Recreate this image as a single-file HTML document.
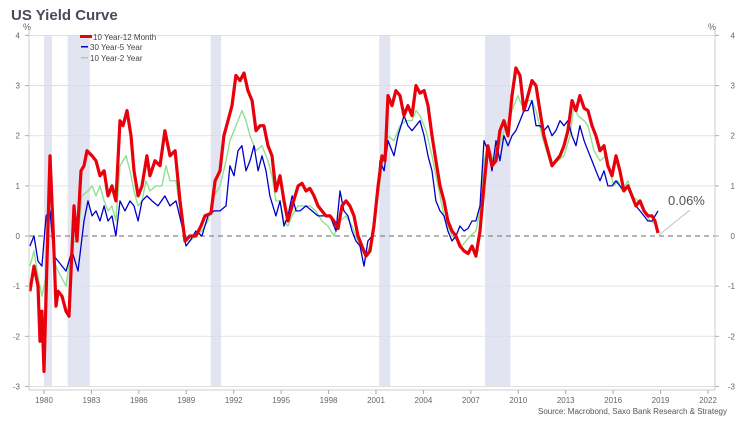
<!DOCTYPE html>
<html><head><meta charset="utf-8"><style>
body{margin:0;background:#fff;}
svg{display:block;font-family:"Liberation Sans",sans-serif;}
</style></head><body>
<svg id="chart" width="737" height="428">
<text x="11" y="20" font-size="15" font-weight="bold" fill="#4a4a5a">US Yield Curve</text>
<text x="23" y="30" font-size="9" fill="#666">%</text>
<text x="708" y="30" font-size="9" fill="#666">%</text>
<g id="bands"></g><g id="grid"></g><g id="series"></g><g id="axes"></g>
<g>
<rect x="80" y="35" width="12" height="3" fill="#e8000b"/>
<text x="93" y="40" font-size="8" fill="#444">10 Year-12 Month</text>
<rect x="81" y="46" width="7" height="1.5" fill="#0000c8"/>
<text x="90" y="50" font-size="8" fill="#444">30 Year-5 Year</text>
<rect x="81" y="57" width="7" height="1.5" fill="#90e090"/>
<text x="90" y="61" font-size="8" fill="#444">10 Year-2 Year</text>
</g>
<line x1="659" y1="235" x2="690" y2="210" stroke="#aaa" stroke-width="0.8"/>
<text x="668" y="205" font-size="13" fill="#555">0.06%</text>
<text x="727" y="414" font-size="8" fill="#555" text-anchor="end">Source: Macrobond, Saxo Bank Research &amp; Strategy</text>
</svg>
<script>
const yTicks=[-3,-2,-1,0,1,2,3,4];
const xTicks=[1980,1983,1986,1989,1992,1995,1998,2001,2004,2007,2010,2013,2016,2019,2022];
const recessions=[[1980.0,1980.5],[1981.5,1982.9],[1990.55,1991.2],[2001.2,2001.9],[2007.9,2009.5]];
const redDates=[1979.11,1979.37,1979.62,1979.75,1979.87,1980.00,1980.19,1980.38,1980.57,1980.76,1980.89,1981.14,1981.39,1981.58,1981.90,1982.09,1982.34,1982.53,1982.72,1983.04,1983.29,1983.54,1983.80,1984.05,1984.30,1984.55,1984.81,1985.00,1985.25,1985.50,1985.69,1985.95,1986.20,1986.51,1986.70,1987.02,1987.34,1987.65,1987.97,1988.29,1988.60,1988.92,1989.23,1989.61,1989.93,1990.18,1990.56,1990.82,1991.13,1991.38,1991.64,1991.89,1992.14,1992.40,1992.65,1992.90,1993.16,1993.41,1993.66,1993.91,1994.17,1994.42,1994.67,1994.93,1995.18,1995.43,1995.69,1996.07,1996.32,1996.57,1996.82,1997.08,1997.33,1997.58,1997.84,1998.09,1998.34,1998.60,1998.85,1999.10,1999.35,1999.61,1999.86,2000.11,2000.37,2000.62,2000.87,2001.13,2001.38,2001.57,2001.76,2002.01,2002.26,2002.52,2002.77,2003.02,2003.28,2003.53,2003.78,2004.04,2004.29,2004.54,2004.79,2005.05,2005.30,2005.55,2005.81,2006.06,2006.31,2006.57,2006.82,2007.07,2007.32,2007.58,2007.83,2008.08,2008.34,2008.59,2008.84,2009.09,2009.35,2009.60,2009.85,2010.11,2010.36,2010.61,2010.87,2011.12,2011.37,2011.62,2011.88,2012.13,2012.38,2012.64,2012.89,2013.14,2013.40,2013.65,2013.90,2014.16,2014.41,2014.66,2014.91,2015.17,2015.42,2015.67,2015.93,2016.18,2016.43,2016.68,2016.94,2017.19,2017.44,2017.70,2017.95,2018.20,2018.46,2018.65,2018.84];
const redValues=[-1.1,-0.6,-1.0,-2.1,-1.5,-2.7,-0.5,1.6,0.2,-1.4,-1.1,-1.2,-1.5,-1.6,0.6,-0.1,1.3,1.4,1.7,1.6,1.5,1.2,1.3,0.8,1.0,0.7,2.3,2.2,2.5,2.0,1.3,0.8,1.0,1.6,1.2,1.5,1.4,2.1,1.6,1.7,0.7,-0.1,0.0,0.0,0.2,0.4,0.45,1.1,1.3,2.0,2.3,2.6,3.2,3.1,3.25,2.9,2.7,2.1,2.2,2.2,1.8,1.6,0.9,1.2,0.7,0.3,0.6,1.0,1.05,0.9,0.95,0.8,0.6,0.5,0.4,0.4,0.3,0.15,0.6,0.7,0.6,0.4,0.0,-0.2,-0.4,-0.3,0.2,1.0,1.6,1.5,2.8,2.6,2.9,2.8,2.4,2.6,2.4,3.0,2.85,2.9,2.6,2.0,1.5,1.0,0.7,0.3,0.1,0.0,-0.2,-0.3,-0.35,-0.2,-0.4,0.1,1.0,1.8,1.4,1.5,2.1,2.3,2.0,2.8,3.35,3.2,2.5,2.8,3.1,3.0,2.5,2.0,1.7,1.4,1.5,1.6,1.8,2.1,2.7,2.5,2.8,2.55,2.5,2.2,2.0,1.7,1.8,1.4,1.2,1.6,1.3,0.9,1.0,0.8,0.6,0.7,0.5,0.4,0.4,0.3,0.06];
const blueDates=[1979.11,1979.37,1979.62,1979.87,1980.13,1980.38,1980.63,1980.89,1981.39,1981.77,1982.15,1982.53,1982.78,1983.04,1983.29,1983.54,1983.80,1984.05,1984.30,1984.55,1984.81,1985.12,1985.44,1985.69,1985.95,1986.20,1986.51,1986.83,1987.21,1987.65,1987.97,1988.35,1988.73,1988.98,1989.23,1989.61,1989.99,1990.37,1990.75,1991.13,1991.51,1991.76,1992.02,1992.27,1992.52,1992.78,1993.03,1993.28,1993.54,1993.79,1994.04,1994.29,1994.67,1994.93,1995.18,1995.43,1995.69,1995.94,1996.19,1996.57,1996.95,1997.33,1997.71,1998.09,1998.47,1998.72,1998.97,1999.23,1999.48,1999.73,1999.99,2000.24,2000.49,2000.75,2001.00,2001.25,2001.51,2001.76,2002.14,2002.39,2002.77,2003.02,2003.28,2003.53,2003.78,2004.04,2004.29,2004.54,2004.79,2005.05,2005.30,2005.55,2005.81,2006.06,2006.31,2006.57,2006.82,2007.07,2007.32,2007.58,2007.83,2008.08,2008.34,2008.59,2008.84,2009.09,2009.35,2009.60,2009.85,2010.11,2010.36,2010.61,2010.87,2011.12,2011.37,2011.62,2011.88,2012.13,2012.38,2012.64,2012.89,2013.14,2013.40,2013.65,2013.90,2014.16,2014.41,2014.66,2014.91,2015.17,2015.42,2015.67,2015.93,2016.18,2016.43,2016.68,2016.94,2017.19,2017.44,2017.70,2017.95,2018.20,2018.46,2018.84];
const blueValues=[-0.2,0.0,-0.5,-0.6,0.4,0.5,-0.4,-0.5,-0.7,-0.3,-0.7,0.3,0.7,0.4,0.5,0.3,0.6,0.3,0.4,0.0,0.7,0.5,0.7,0.6,0.3,0.7,0.8,0.7,0.6,0.8,0.6,0.7,0.2,-0.2,-0.1,0.1,0.0,0.4,0.5,0.5,0.6,1.4,1.2,1.7,1.8,1.3,1.5,1.8,1.3,1.6,1.3,0.8,0.4,0.7,0.2,0.4,0.8,0.5,0.5,0.6,0.5,0.4,0.4,0.4,0.1,0.9,0.5,0.4,0.1,-0.1,-0.2,-0.6,-0.1,0.0,0.5,1.5,1.3,1.9,1.6,2.0,2.4,2.2,2.1,2.2,2.3,2.0,1.6,1.3,0.7,0.5,0.4,0.1,-0.1,0.0,0.2,0.1,0.15,0.3,0.3,0.6,1.9,1.7,1.3,1.9,1.5,2.0,1.8,2.0,2.1,2.3,2.5,2.5,2.7,2.2,2.2,2.1,2.2,2.0,2.1,2.3,2.2,2.3,2.0,1.8,2.2,1.9,1.7,1.5,1.3,1.1,1.3,1.0,1.0,1.1,1.0,0.9,1.0,0.8,0.6,0.5,0.4,0.3,0.3,0.5];
const greenDates=[1979.11,1979.37,1979.62,1979.87,1980.13,1980.38,1980.63,1980.89,1981.39,1981.77,1982.15,1982.40,1982.78,1983.04,1983.29,1983.54,1983.80,1984.05,1984.30,1984.55,1984.81,1985.19,1985.44,1985.69,1985.95,1986.20,1986.45,1986.70,1987.08,1987.46,1987.72,1987.97,1988.35,1988.60,1988.92,1989.23,1989.61,1989.99,1990.37,1990.75,1991.13,1991.51,1991.76,1992.02,1992.27,1992.52,1992.78,1993.03,1993.41,1993.79,1994.17,1994.42,1994.67,1994.93,1995.18,1995.43,1995.69,1996.07,1996.45,1996.82,1997.20,1997.58,1997.96,1998.34,1998.72,1999.10,1999.48,1999.73,2000.11,2000.37,2000.62,2000.87,2001.13,2001.38,2001.76,2002.14,2002.52,2002.90,2003.28,2003.53,2003.78,2004.16,2004.54,2004.79,2005.05,2005.30,2005.55,2005.81,2006.19,2006.44,2006.69,2006.95,2007.32,2007.58,2007.83,2008.08,2008.46,2008.84,2009.09,2009.35,2009.73,2009.98,2010.23,2010.61,2010.87,2011.12,2011.50,2011.88,2012.13,2012.51,2012.89,2013.27,2013.52,2013.78,2014.16,2014.41,2014.79,2015.17,2015.55,2015.80,2016.05,2016.31,2016.56,2016.94,2017.19,2017.57,2017.95,2018.33,2018.65,2018.84];
const greenValues=[-0.6,-0.3,-0.8,-1.2,-0.8,1.0,-0.5,-0.7,-1.0,-0.2,0.0,0.8,0.9,1.0,0.8,1.0,0.7,0.5,0.6,0.3,1.4,1.6,1.3,0.9,0.6,0.7,1.1,0.9,1.0,1.0,1.4,1.1,1.1,0.5,-0.1,-0.1,0.0,0.1,0.3,0.8,1.0,1.5,1.9,2.1,2.3,2.5,2.3,2.0,1.7,1.8,1.5,1.2,0.7,0.7,0.3,0.2,0.4,0.6,0.6,0.6,0.5,0.3,0.2,0.0,0.3,0.4,0.2,0.0,-0.3,-0.4,-0.2,0.3,0.8,1.4,2.0,1.9,2.2,2.3,2.3,2.5,2.4,2.1,1.6,1.2,0.8,0.4,0.2,0.0,-0.1,-0.2,-0.1,0.0,0.1,0.5,1.5,1.8,1.5,1.8,2.1,2.3,2.6,2.8,2.6,2.7,2.7,2.5,2.0,1.6,1.4,1.5,1.6,2.0,2.6,2.4,2.3,2.2,1.7,1.5,1.6,1.3,1.0,1.1,0.9,1.1,0.8,0.7,0.5,0.3,0.25,0.2];

const NS='http://www.w3.org/2000/svg';
const L=29,R=715,T=35,B=386;
const xs=y=>44+(y-1980)*(708-44)/42;
const ys=v=>236-v*(386-35)/7;
function mk(tag,attrs,parent){const e=document.createElementNS(NS,tag);for(const k in attrs)e.setAttribute(k,attrs[k]);parent.appendChild(e);return e;}
const bands=document.getElementById('bands'),grid=document.getElementById('grid'),series=document.getElementById('series'),axes=document.getElementById('axes');
recessions.forEach(r=>{
 const e=mk('rect',{x:xs(r[0]),y:T,width:xs(r[1])-xs(r[0]),height:B-T,fill:'#e3e4f2'},bands);
 
 
});
yTicks.forEach(v=>{
 const y=ys(v);
 const g=mk('line',{x1:L,x2:R,y1:y,y2:y,stroke:v===0?'#888':'#dcdcdc','stroke-width':v===0?1.2:0.8,'stroke-dasharray':v===0?'5,4':''},grid);
 
 
 const t1=mk('text',{x:20,y:y+3,'font-size':8,fill:'#666','text-anchor':'end'},axes);t1.textContent=v;
 
 
 const t2=mk('text',{x:735,y:y+3,'font-size':8,fill:'#666','text-anchor':'end'},axes);t2.textContent=v;
 
 
 mk('line',{x1:L-4,x2:L,y1:y,y2:y,stroke:'#aaa'},axes);
 mk('line',{x1:R,x2:R+4,y1:y,y2:y,stroke:'#aaa'},axes);
});
const la=mk('line',{x1:L,x2:L,y1:T-5,y2:B+4,stroke:'#ccc'},axes);


const ra=mk('line',{x1:R,x2:R,y1:T-5,y2:B+4,stroke:'#ccc'},axes);


const xa=mk('line',{x1:L,x2:R,y1:B+4,y2:B+4,stroke:'#ccc'},axes);


xTicks.forEach(yr=>{
 const x=xs(yr);
 mk('line',{x1:x,x2:x,y1:B+4,y2:B+8,stroke:'#aaa'},axes);
 const t=mk('text',{x:x,y:B+17,'font-size':8,fill:'#666','text-anchor':'middle'},axes);t.textContent=yr;
 
 
});
function line(d,v,color,w,name){
 const pts=d.map((x,i)=>xs(x).toFixed(1)+','+ys(v[i]).toFixed(1)).join(' ');
 const p=mk('polyline',{points:pts,fill:'none',stroke:color,'stroke-width':w,'stroke-linejoin':'round'},series);
 
 
}
line(greenDates,greenValues,'#90e090',1.4,'series-10y-2y');
line(blueDates,blueValues,'#0000c8',1.3,'series-30y-5y');
line(redDates,redValues,'#e8000b',3.2,'series-10y-12m');
</script>
</body></html>
